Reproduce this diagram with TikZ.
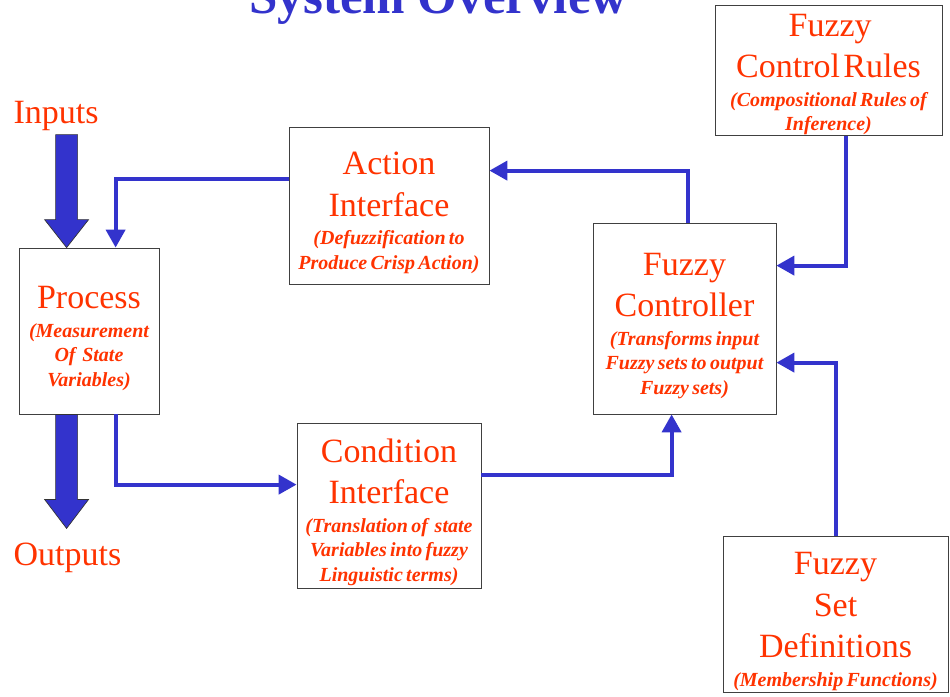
\documentclass[tikz,border=0pt]{standalone}
\usepackage{fontspec}
\setmainfont{Liberation Serif}
\usepackage{tikz}
\usetikzlibrary{shapes, calc, arrows.meta, positioning}

\definecolor{txtred}{RGB}{255,51,0}
\definecolor{linkblue}{RGB}{51,51,204}
\newcommand{\bigtxt}{\fontsize{34}{41.5}\selectfont}
\newcommand{\smltxt}{\fontsize{20}{24.5}\selectfont\bfseries\itshape}
\newcommand{\topgap}[1][37pt]{\rule{0pt}{#1}}
\newcommand{\midgap}{\vspace{4pt}}

\begin{document}
\begin{tikzpicture}[x=1pt, y=-1pt,
  box/.style={draw=black!75, line width=0.8pt, fill=white, text=txtred, inner sep=1pt, align=center},
  link/.style={draw=linkblue, line width=4pt, -{Triangle[length=18pt,width=19pt]}},
  blockarrow/.style={fill=linkblue, draw=black!80, line width=0.7pt},
  lbl/.style={text=txtred, font=\bigtxt, inner sep=0pt}]
\useasboundingbox (0,0) rectangle (950,696);

% title, cut by the top edge
\node[text=linkblue, font=\fontsize{51}{60}\selectfont\bfseries, anchor=base, inner sep=0pt] (title) at (438.5,13) {System Overview};

% boxes
\node[box, minimum width=140pt, minimum height=166pt, text width=138pt] (proc) at (89,331)
  {{\bigtxt\topgap Process\par}\midgap{\smltxt (Measurement\par Of~ State\par Variables)\par}};
\node[box, minimum width=200pt, minimum height=157pt, text width=198pt] (act) at (389,205.5)
  {{\bigtxt\topgap Action\par Interface\par}\midgap{\smltxt (Defuzzification to\par Produce Crisp Action)\par}};
\node[box, minimum width=184pt, minimum height=165pt, text width=182pt] (cond) at (389,505.5)
  {{\bigtxt\topgap Condition\par Interface\par}\midgap{\smltxt (Translation of~ state\par Variables into fuzzy\par Linguistic terms)\par}};
\node[box, minimum width=183pt, minimum height=191pt, text width=181pt] (ctrl) at (684.5,318.5)
  {{\bigtxt\topgap Fuzzy\par Controller\par}\midgap{\smltxt (Transforms input\par Fuzzy sets to output\par Fuzzy sets)\par}};
\node[box, minimum width=227pt, minimum height=129pt, text width=225pt] (rules) at (828.5,70.5)
  {{\bigtxt\topgap[30pt] Fuzzy\par Control Rules\par}\midgap{\smltxt (Compositional Rules of\par Inference)\par}};
\node[box, minimum width=225pt, minimum height=156pt, text width=223pt] (sets) at (835.5,614)
  {{\bigtxt\topgap Fuzzy\par Set\par Definitions\par}\midgap{\smltxt (Membership Functions)\par}};

% inputs / outputs
\node[lbl, anchor=base] (inlbl) at (56,123) {Inputs};
\node[lbl, anchor=base] (outlbl) at (67.5,565) {Outputs};

\coordinate (inTip) at ($(proc.north west)+(48,0)$);
\coordinate (outTop) at ($(proc.south west)+(48,0)$);
\draw[blockarrow] ($(inTip)+(-11,-113)$) -- ++(22,0) -- ++(0,85) -- ++(11,0) -- (inTip)
  -- ($(inTip)+(-22,-28)$) -- ++(11,0) -- cycle;
\draw[blockarrow] ($(outTop)+(-11,0)$) -- ++(22,0) -- ++(0,85) -- ++(11,0) -- ($(outTop)+(0,114)$)
  -- ($(outTop)+(-22,85)$) -- ++(11,0) -- cycle;

% connectors
\draw[link] ($(act.north west)+(0,52)$) -| ($(proc.north west)+(97,0)$);
\draw[link] ($(proc.south west)+(97,0)$) |- ($(cond.north west)+(0,62)$);
\draw[link] ($(cond.north east)+(0,52)$) -| ($(ctrl.south west)+(79,0)$);
\draw[link] ($(ctrl.north west)+(95,0)$) |- ($(act.north east)+(0,44)$);
\draw[link] ($(rules.south west)+(131,0)$) |- ($(ctrl.north east)+(0,43)$);
\draw[link] ($(sets.north west)+(113,0)$) |- ($(ctrl.north east)+(0,140)$);
\end{tikzpicture}
\end{document}
